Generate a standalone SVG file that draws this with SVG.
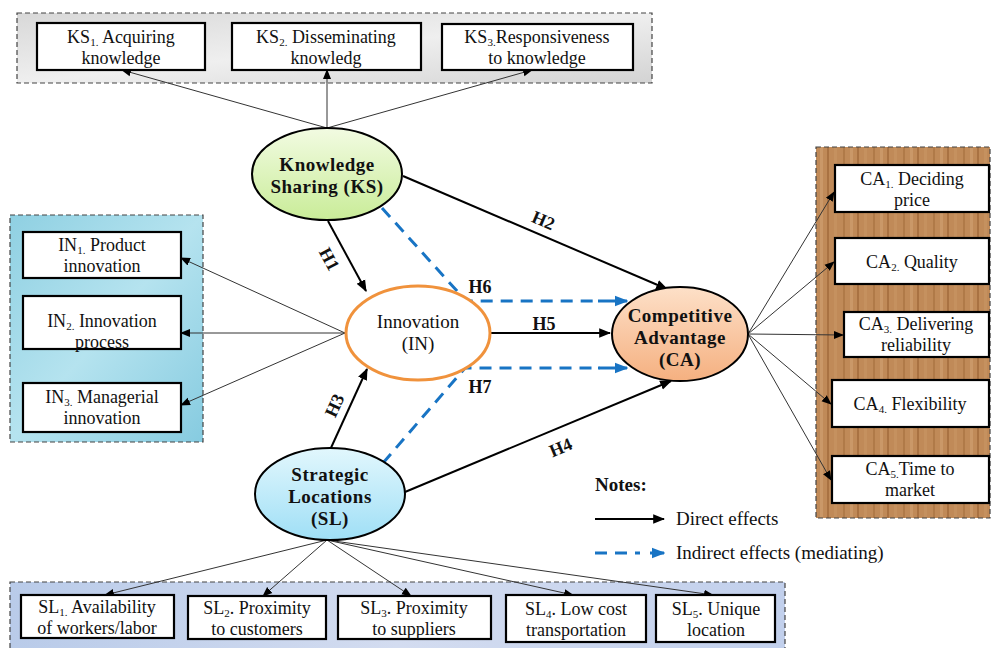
<svg xmlns="http://www.w3.org/2000/svg" width="991" height="648" viewBox="0 0 991 648">
<defs>
<style>
text{font-family:"Liberation Serif","Times New Roman",Tinos,"DejaVu Serif",serif}
.box{fill:#fff;stroke:#000;stroke-width:2.2}
.panel{stroke:#444;stroke-width:1.2;stroke-dasharray:5,3}
.t{font-size:18px;fill:#111;text-anchor:middle}
.tb{font-size:19px;font-weight:bold;fill:#111;text-anchor:middle;letter-spacing:0.5px}
.h{font-size:18px;font-weight:bold;fill:#111;text-anchor:middle}
.lg{font-size:19px;fill:#111}
.thin{stroke:#333;stroke-width:1;fill:none;marker-end:url(#ah)}
.dir{stroke:#000;stroke-width:2;fill:none;marker-end:url(#ah2)}
.ind{stroke:#1874c4;stroke-width:3;stroke-dasharray:12,8;fill:none}
.s{font-size:11px}
</style>
<marker id="ah" viewBox="0 0 10 10" refX="9" refY="5" markerWidth="10" markerHeight="10" markerUnits="userSpaceOnUse" orient="auto"><path d="M0,1 L10,5 L0,9 z" fill="#000"/></marker>
<marker id="ah2" viewBox="0 0 10 10" refX="9" refY="5" markerWidth="6" markerHeight="6" orient="auto"><path d="M0,1 L10,5 L0,9 z" fill="#000"/></marker>
<marker id="ahb" viewBox="0 0 10 10" refX="9" refY="5" markerWidth="4.5" markerHeight="4.5" orient="auto"><path d="M0,1 L10,5 L0,9 z" fill="#1874c4"/></marker>
<linearGradient id="gKS" x1="0" y1="0" x2="0" y2="1"><stop offset="0" stop-color="#f2fbe2"/><stop offset="1" stop-color="#c9ec98"/></linearGradient>
<linearGradient id="gCA" x1="0" y1="0" x2="0" y2="1"><stop offset="0" stop-color="#fde0c8"/><stop offset="1" stop-color="#f5b080"/></linearGradient>
<linearGradient id="gSL" x1="0" y1="0" x2="0" y2="1"><stop offset="0" stop-color="#e2f7fd"/><stop offset="1" stop-color="#9fdff6"/></linearGradient>
<linearGradient id="gMarble" x1="0" y1="0" x2="1" y2="1"><stop offset="0" stop-color="#d8d8d8"/><stop offset="0.5" stop-color="#efefef"/><stop offset="1" stop-color="#d3d3d3"/></linearGradient>
<linearGradient id="gWater" x1="0" y1="0" x2="1" y2="1"><stop offset="0" stop-color="#8fd0e2"/><stop offset="0.5" stop-color="#b5e3ef"/><stop offset="1" stop-color="#86cbe0"/></linearGradient>
<linearGradient id="gBlue" x1="0" y1="0" x2="1" y2="0"><stop offset="0" stop-color="#b9cbe9"/><stop offset="0.5" stop-color="#d3dcf0"/><stop offset="1" stop-color="#c2d0ec"/></linearGradient>
<pattern id="wood" x="0" y="0" width="30" height="40" patternUnits="userSpaceOnUse">
<rect width="30" height="40" fill="#c08a58"/>
<rect x="3" width="2" height="40" fill="#b07a48"/>
<rect x="10" width="3" height="40" fill="#ca9868"/>
<rect x="17" width="2" height="40" fill="#a97242"/>
<rect x="24" width="3" height="40" fill="#c5915f"/>
</pattern>
</defs>

<g id="panels">
<rect class="panel" x="17" y="13" width="635" height="70" fill="url(#gMarble)"/>
<rect class="panel" x="10" y="215" width="193" height="227" fill="url(#gWater)"/>
<rect class="panel" x="816" y="147" width="174" height="371" fill="url(#wood)"/>
<rect class="panel" x="10" y="582" width="775" height="70" fill="url(#gBlue)"/>
</g>

<g id="connectors">
<line class="thin" x1="327" y1="128" x2="122" y2="70"/>
<line class="thin" x1="327" y1="128" x2="327" y2="70"/>
<line class="thin" x1="327" y1="128" x2="532" y2="70"/>
<line class="thin" x1="345" y1="333" x2="181" y2="258"/>
<line class="thin" x1="345" y1="333" x2="181" y2="333"/>
<line class="thin" x1="345" y1="333" x2="181" y2="405"/>
<line class="thin" x1="748" y1="334" x2="834" y2="192"/>
<line class="thin" x1="748" y1="334" x2="834" y2="262"/>
<line class="thin" x1="748" y1="334" x2="843" y2="335"/>
<line class="thin" x1="748" y1="334" x2="831" y2="404"/>
<line class="thin" x1="748" y1="334" x2="831" y2="480"/>
<line class="thin" x1="327" y1="540" x2="105" y2="595"/>
<line class="thin" x1="327" y1="540" x2="263" y2="596"/>
<line class="thin" x1="327" y1="540" x2="411" y2="596"/>
<line class="thin" x1="327" y1="540" x2="573" y2="595"/>
<line class="thin" x1="327" y1="540" x2="713" y2="595"/>

<line class="dir" x1="328" y1="221" x2="366" y2="291"/>
<line class="dir" x1="403" y1="176" x2="667" y2="289"/>
<line class="dir" x1="330" y1="450" x2="367" y2="369"/>
<line class="dir" x1="405" y1="492" x2="671" y2="381"/>
<line class="dir" x1="491" y1="333" x2="610" y2="333"/>

<polyline class="ind" points="382,208 466,301 600,301"/>
<line x1="598" y1="301" x2="627" y2="301" stroke="#1874c4" stroke-width="3" marker-end="url(#ahb)"/>
<polyline class="ind" points="383,463 465,368 600,368"/>
<line x1="598" y1="368" x2="627" y2="368" stroke="#1874c4" stroke-width="3" marker-end="url(#ahb)"/>

<text class="h" transform="translate(324,262) rotate(62)">H1</text>
<text class="h" transform="translate(541,226) rotate(23)">H2</text>
<text class="h" transform="translate(340,408) rotate(-65)">H3</text>
<text class="h" transform="translate(563,453) rotate(-23)">H4</text>
<text class="h" x="544" y="330">H5</text>
<text class="h" x="480" y="293">H6</text>
<text class="h" x="480" y="393">H7</text>
</g>

<g id="KS">
<ellipse cx="327" cy="174" rx="75" ry="46" fill="url(#gKS)" stroke="#000" stroke-width="2"/>
<text class="tb" x="327" y="171">Knowledge</text>
<text class="tb" x="327" y="193">Sharing  (KS)</text>
</g>
<g id="IN">
<ellipse cx="418" cy="333" rx="72" ry="47" fill="#fff" stroke="#f0923c" stroke-width="3"/>
<text class="t" x="418" y="328" style="font-size:19px">Innovation</text>
<text class="t" x="418" y="350" style="font-size:19px">(IN)</text>
</g>
<g id="CA">
<ellipse cx="680" cy="334" rx="68" ry="47" fill="url(#gCA)" stroke="#000" stroke-width="2"/>
<text class="tb" x="680" y="322">Competitive</text>
<text class="tb" x="680" y="344">Advantage</text>
<text class="tb" x="680" y="366">(CA)</text>
</g>
<g id="SL">
<ellipse cx="330" cy="494" rx="75" ry="46" fill="url(#gSL)" stroke="#000" stroke-width="2"/>
<text class="tb" x="330" y="481">Strategic</text>
<text class="tb" x="330" y="503">Locations</text>
<text class="tb" x="330" y="525">(SL)</text>
</g>

<g id="KS1"><rect class="box" x="37" y="23" width="168" height="47"/>
<text class="t" x="121" y="43">KS<tspan class="s" dy="2.5">1.</tspan><tspan dy="-2.5"> Acquiring</tspan></text>
<text class="t" x="121" y="64">knowledge</text></g>
<g id="KS2"><rect class="box" x="232" y="23" width="189" height="47"/>
<text class="t" x="326" y="43">KS<tspan class="s" dy="2.5">2.</tspan><tspan dy="-2.5"> Disseminating</tspan></text>
<text class="t" x="326" y="64">knowledg</text></g>
<g id="KS3"><rect class="box" x="442" y="24" width="191" height="46"/>
<text class="t" x="537" y="43">KS<tspan class="s" dy="2.5">3.</tspan><tspan dy="-2.5">Responsiveness</tspan></text>
<text class="t" x="537" y="64">to knowledge</text></g>

<g id="IN1"><rect class="box" x="23" y="232" width="158" height="46"/>
<text class="t" x="102" y="251">IN<tspan class="s" dy="2.5">1.</tspan><tspan dy="-2.5"> Product</tspan></text>
<text class="t" x="102" y="272">innovation</text></g>
<g id="IN2"><rect class="box" x="23" y="296" width="158" height="53"/>
<text class="t" x="102" y="327">IN<tspan class="s" dy="2.5">2.</tspan><tspan dy="-2.5"> Innovation</tspan></text>
<text class="t" x="102" y="348">process</text></g>
<g id="IN3"><rect class="box" x="23" y="383" width="158" height="49"/>
<text class="t" x="102" y="403">IN<tspan class="s" dy="2.5">3.</tspan><tspan dy="-2.5"> Managerial</tspan></text>
<text class="t" x="102" y="424">innovation</text></g>

<g id="CA1"><rect class="box" x="835" y="165" width="154" height="47"/>
<text class="t" x="912" y="185">CA<tspan class="s" dy="2.5">1.</tspan><tspan dy="-2.5"> Deciding</tspan></text>
<text class="t" x="912" y="206">price</text></g>
<g id="CA2"><rect class="box" x="835" y="238" width="154" height="46"/>
<text class="t" x="912" y="268">CA<tspan class="s" dy="2.5">2.</tspan><tspan dy="-2.5"> Quality</tspan></text></g>
<g id="CA3"><rect class="box" x="844" y="312" width="145" height="45"/>
<text class="t" x="916" y="330">CA<tspan class="s" dy="2.5">3.</tspan><tspan dy="-2.5"> Delivering</tspan></text>
<text class="t" x="916" y="351">reliability</text></g>
<g id="CA4"><rect class="box" x="832" y="380" width="157" height="47"/>
<text class="t" x="910" y="410">CA<tspan class="s" dy="2.5">4.</tspan><tspan dy="-2.5"> Flexibility</tspan></text></g>
<g id="CA5"><rect class="box" x="832" y="456" width="157" height="47"/>
<text class="t" x="910" y="475">CA<tspan class="s" dy="2.5">5.</tspan><tspan dy="-2.5">Time  to</tspan></text>
<text class="t" x="910" y="496">market</text></g>

<g id="SL1"><rect class="box" x="21" y="595" width="153" height="43"/>
<text class="t" x="97" y="613">SL<tspan class="s" dy="2.5">1.</tspan><tspan dy="-2.5"> Availability</tspan></text>
<text class="t" x="97" y="634">of  workers/labor</text></g>
<g id="SL2"><rect class="box" x="188" y="596" width="138" height="43"/>
<text class="t" x="257" y="614">SL<tspan class="s" dy="2.5">2</tspan><tspan dy="-2.5">. Proximity</tspan></text>
<text class="t" x="257" y="635">to customers</text></g>
<g id="SL3"><rect class="box" x="338" y="596" width="153" height="43"/>
<text class="t" x="414" y="614">SL<tspan class="s" dy="2.5">3</tspan><tspan dy="-2.5">. Proximity</tspan></text>
<text class="t" x="414" y="635">to suppliers</text></g>
<g id="SL4"><rect class="box" x="506" y="595" width="140" height="47"/>
<text class="t" x="576" y="615">SL<tspan class="s" dy="2.5">4</tspan><tspan dy="-2.5">. Low  cost</tspan></text>
<text class="t" x="576" y="636">transportation</text></g>
<g id="SL5"><rect class="box" x="656" y="595" width="119" height="47"/>
<text class="t" x="716" y="615">SL<tspan class="s" dy="2.5">5</tspan><tspan dy="-2.5">. Unique</tspan></text>
<text class="t" x="716" y="636">location</text></g>

<g id="legend">
<text class="lg" x="595" y="491" font-weight="bold">Notes:</text>
<line x1="595" y1="519" x2="664" y2="519" stroke="#000" stroke-width="2" marker-end="url(#ah2)"/>
<text class="lg" x="676" y="525">Direct  effects</text>
<line x1="595" y1="553" x2="640" y2="553" stroke="#1874c4" stroke-width="3" stroke-dasharray="12,8"/>
<line x1="650" y1="553" x2="664" y2="553" stroke="#1874c4" stroke-width="3" marker-end="url(#ahb)"/>
<text class="lg" x="676" y="559">Indirect  effects  (mediating)</text>
</g>
</svg>
